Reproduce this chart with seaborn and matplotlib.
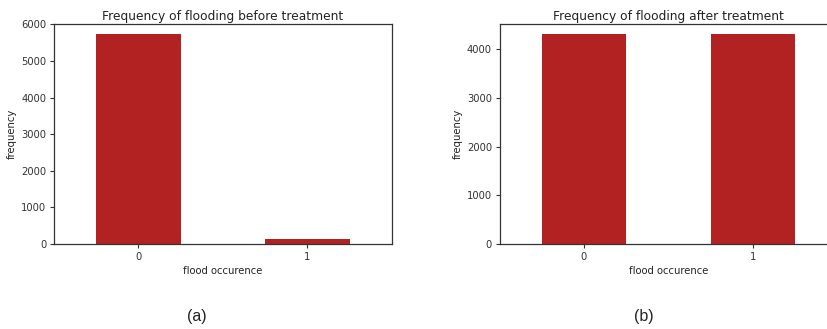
import matplotlib
matplotlib.use("Agg")
import matplotlib.pyplot as plt
import seaborn as sns
import pandas as pd

# Class counts of the flood label
classes = ["0", "1"]
counts_before = [5724, 145]
counts_after = [4302, 4302]

titles = ["Frequency of flooding before treatment",
          "Frequency of flooding after treatment"]
captions = ["(a)", "(b)"]

sns.set_style("ticks")
plt.rcParams["font.family"] = ["DejaVu Sans"]
plt.rcParams["axes.edgecolor"] = "#333333"
plt.rcParams["xtick.color"] = "#333333"
plt.rcParams["ytick.color"] = "#333333"
plt.rcParams["text.color"] = "#222222"
plt.rcParams["axes.labelcolor"] = "#222222"

fig = plt.figure(figsize=(8.28, 3.29), dpi=100)
ax_a = fig.add_axes([0.0652, 0.2584, 0.408, 0.6687])
ax_b = fig.add_axes([0.6033, 0.2584, 0.408, 0.6687])

for ax, counts, title in zip([ax_a, ax_b], [counts_before, counts_after], titles):
    df = pd.DataFrame({"flood occurence": classes, "frequency": counts})
    sns.barplot(data=df, x="flood occurence", y="frequency", ax=ax,
                color="#B22222", saturation=1, width=0.5, linewidth=0)
    ax.set_xlim(-0.5, 1.5)
    ax.set_ylim(0, max(counts) * 1.05)
    ax.set_title(title, fontsize=8.8, pad=3)
    ax.set_xlabel("flood occurence", fontsize=7.2, labelpad=3)
    ax.set_ylabel("frequency", fontsize=7.2, labelpad=3)
    ax.tick_params(labelsize=7.2, length=3, width=0.8, pad=2.5)
    for s in ax.spines.values():
        s.set_linewidth(0.9)
        s.set_visible(True)

# the right-hand panel runs off the edge of the figure
ax_b.spines["right"].set_visible(False)

fig.text(197 / 828, 1 - 316 / 329, captions[0], ha="center", va="center",
         fontsize=11.5, family="Liberation Sans")
fig.text(644 / 828, 1 - 316 / 329, captions[1], ha="center", va="center",
         fontsize=11.5, family="Liberation Sans")

fig.savefig("out.png", dpi=100)
